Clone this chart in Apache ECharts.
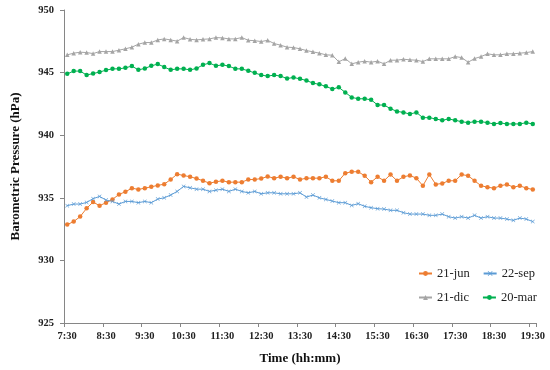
<!DOCTYPE html>
<html>
<head>
<meta charset="utf-8">
<script src="https://cdn.jsdelivr.net/npm/echarts@6/dist/echarts.min.js"></script>
<style>
html,body{margin:0;padding:0;background:#fff;}
#c{width:550px;height:370px;}
</style>
</head>
<body>
<div id="c"></div>
<script>
// Categories: 7:30 .. 19:30 every 10 minutes
var times = [];
for (var m = 7*60+30; m <= 19*60+30; m += 10) {
  times.push(Math.floor(m/60) + ':' + ('0' + (m % 60)).slice(-2));
}

var jun21 = [932.86,933.10,933.50,934.16,934.66,934.37,934.61,934.87,935.27,935.48,
  935.77,935.67,935.77,935.88,935.99,936.09,936.46,936.89,936.78,936.68,
  936.54,936.36,936.17,936.28,936.36,936.25,936.25,936.25,936.46,936.46,
  936.54,936.70,936.57,936.68,936.57,936.68,936.46,936.57,936.57,936.57,
  936.68,936.36,936.36,936.97,937.08,937.08,936.76,936.25,936.68,936.36,
  936.86,936.36,936.68,936.78,936.57,935.96,936.86,936.07,936.15,936.36,
  936.36,936.86,936.76,936.36,935.96,935.85,935.77,935.96,936.07,935.85,
  935.96,935.77,935.67];

var sep22 = [934.37,934.50,934.50,934.63,934.93,935.11,934.82,934.71,934.50,934.71,
  934.71,934.61,934.71,934.61,934.90,935.00,935.22,935.51,935.91,935.80,
  935.69,935.69,935.51,935.61,935.69,935.51,935.69,935.51,935.40,935.51,
  935.32,935.40,935.40,935.32,935.32,935.32,935.40,935.06,935.22,935.00,
  934.87,934.74,934.61,934.61,934.39,934.53,934.32,934.21,934.13,934.10,
  934.00,934.00,933.81,933.70,933.70,933.70,933.60,933.60,933.70,933.49,
  933.38,933.49,933.38,933.60,933.38,933.49,933.38,933.38,933.30,933.20,
  933.38,933.30,933.10];

var dic21 = [946.42,946.55,946.63,946.60,946.52,946.68,946.68,946.68,946.79,946.90,
  947.03,947.27,947.40,947.40,947.61,947.69,947.61,947.51,947.80,947.66,
  947.61,947.66,947.69,947.80,947.77,947.69,947.69,947.80,947.58,947.55,
  947.48,947.58,947.32,947.19,947.03,947.00,946.90,946.76,946.66,946.55,
  946.42,946.39,945.86,946.12,945.70,945.83,945.91,945.83,945.91,945.70,
  945.99,945.99,946.07,946.02,945.99,945.88,946.10,946.10,946.10,946.10,
  946.28,946.20,945.83,946.12,946.28,946.50,946.42,946.42,946.50,946.50,
  946.55,946.60,946.68];

var mar20 = [944.90,945.12,945.12,944.80,944.93,945.04,945.20,945.30,945.30,945.38,
  945.52,945.22,945.33,945.54,945.68,945.44,945.22,945.30,945.30,945.22,
  945.33,945.62,945.76,945.54,945.62,945.52,945.30,945.30,945.14,944.98,
  944.80,944.72,944.80,944.72,944.53,944.61,944.50,944.37,944.16,944.06,
  943.90,943.69,943.82,943.42,943.02,942.91,942.91,942.83,942.41,942.41,
  942.12,941.90,941.82,941.69,941.82,941.40,941.40,941.30,941.19,941.30,
  941.19,941.08,941.00,941.08,941.08,941.00,940.90,940.98,940.90,940.90,
  940.90,941.00,940.90];

var seriesNames = ['21-jun','22-sep','21-dic','20-mar'];
var yMin = 925, yMax = 950, yStep = 5;

var xMark = 'path://M0,1 L1,0 L5,4 L9,0 L10,1 L6,5 L10,9 L9,10 L5,6 L1,10 L0,9 L4,5 Z';
var FONT = '"Liberation Serif", "DejaVu Serif", serif';

function mk(name, data, color, symbol, size) {
  return {
    name: name, type: 'line', data: data,
    symbol: symbol, symbolSize: size, showSymbol: true, showAllSymbol: true,
    itemStyle: { color: color },
    lineStyle: { color: color, width: 1 },
    emphasis: { disabled: true },
    animation: false
  };
}

var chart = echarts.init(document.getElementById('c'), null, { renderer: 'canvas' });
chart.setOption({
  backgroundColor: '#fff',
  animation: false,
  textStyle: { fontFamily: FONT },
  grid: { left: 64, right: 14, top: 10, bottom: 46, containLabel: false },
  legend: [
    { data: [seriesNames[0], seriesNames[1]], left: 413, top: 262, orient: 'horizontal',
      itemWidth: 13, itemHeight: 6, itemGap: 13,
      textStyle: { fontFamily: FONT, fontSize: 12.5, color: '#222', width: 40 } },
    { data: [seriesNames[2], seriesNames[3]], left: 413, top: 286, orient: 'horizontal',
      itemWidth: 13, itemHeight: 6, itemGap: 13,
      textStyle: { fontFamily: FONT, fontSize: 12.5, color: '#222', width: 40 } }
  ],
  xAxis: {
    type: 'category', data: times, boundaryGap: true,
    name: 'Time (hh:mm)', nameLocation: 'middle', nameGap: 29,
    nameTextStyle: { fontFamily: FONT, fontWeight: 'bold', fontSize: 13, color: '#111' },
    axisLine: { lineStyle: { color: '#868686', width: 1 } },
    axisTick: { show: true, interval: 5, length: 4, lineStyle: { color: '#868686' } },
    axisLabel: { interval: 5, fontFamily: FONT, fontWeight: 'bold', fontSize: 10.5, color: '#222', margin: 8 },
    splitLine: { show: false }
  },
  yAxis: {
    type: 'value', min: yMin, max: yMax, interval: yStep,
    name: 'Barometric Pressure (hPa)', nameLocation: 'middle', nameGap: 42, nameRotate: 90,
    nameTextStyle: { fontFamily: FONT, fontWeight: 'bold', fontSize: 13, color: '#111' },
    axisLine: { show: true, lineStyle: { color: '#868686', width: 1 } },
    axisTick: { show: true, length: 4, lineStyle: { color: '#868686' } },
    axisLabel: { fontFamily: FONT, fontWeight: 'bold', fontSize: 10.5, color: '#222', margin: 10 },
    splitLine: { show: false }
  },
  series: [
    mk('21-jun', jun21, '#ED7D31', 'circle', 4.5),
    mk('22-sep', sep22, '#5B9BD5', xMark, 4),
    mk('21-dic', dic21, '#A5A5A5', 'triangle', 4.5),
    mk('20-mar', mar20, '#00B050', 'circle', 4.5)
  ]
});
</script>
</body>
</html>
